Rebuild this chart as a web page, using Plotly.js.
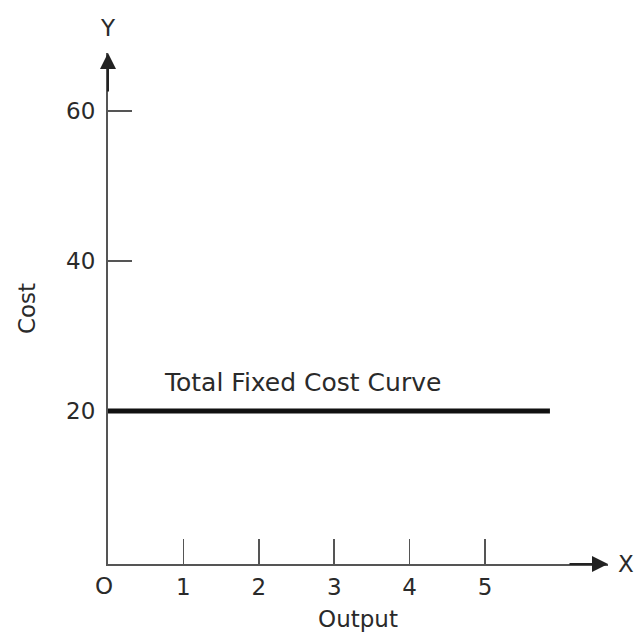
<!DOCTYPE html>
<html><head><meta charset="utf-8">
<script src="https://cdn.plot.ly/plotly-3.0.1.min.js"></script>
<style>html,body{margin:0;padding:0;background:#fff}#c{width:636px;height:632px}</style>
</head><body><div id="c"></div>
<script>
// Data
var outputTicks = [1, 2, 3, 4, 5];
var outputTickLabels = ['1', '2', '3', '4', '5'];
var costTicks = [20, 40, 60];
var costTickLabels = ['20', '40', '60'];
var tfcOutput = [0, 5.86];
var tfcCost = [20, 20];
var curveLabel = 'Total Fixed Cost Curve';

var FONT = '"DejaVu Sans", sans-serif';
var FS = 23;
var TXT = '#2a2a2a';
var AX = '#555';

var trace = {
  x: tfcOutput, y: tfcCost, type: 'scatter', mode: 'lines',
  line: {color: '#111', width: 5}, hoverinfo: 'skip', showlegend: false, cliponaxis: false
};

var layout = {
  width: 636, height: 632,
  margin: {l: 108, r: 28, t: 53, b: 68},
  paper_bgcolor: '#fff', plot_bgcolor: '#fff',
  showlegend: false,
  font: {family: FONT, color: TXT, size: FS},
  xaxis: {
    range: [0, 6.63], showgrid: false, zeroline: false, layer: 'below traces',
    showline: true, linecolor: AX, linewidth: 2,
    ticks: 'inside', ticklen: 25, tickwidth: 1.5, tickcolor: AX,
    tickmode: 'array', tickvals: outputTicks, ticktext: outputTickLabels,
    tickfont: {family: FONT, size: FS, color: TXT},
    ticklabelstandoff: 1,
    title: {text: 'Output', font: {family: FONT, size: FS, color: TXT}, standoff: 12}
  },
  yaxis: {
    range: [-0.4, 67.7], showgrid: false, zeroline: false, layer: 'below traces',
    showline: true, linecolor: AX, linewidth: 2,
    ticks: 'inside', ticklen: 24, tickwidth: 1.5, tickcolor: AX,
    tickmode: 'array', tickvals: costTicks, ticktext: costTickLabels,
    tickfont: {family: FONT, size: FS, color: TXT},
    ticklabelstandoff: 6,
    title: {text: 'Cost', font: {family: FONT, size: FS, color: TXT}, standoff: 24}
  },
  annotations: [
    {xref: 'paper', yref: 'paper', x: 0, y: 1.0, ax: 0, ay: 40,
     showarrow: true, arrowhead: 2, arrowsize: 1.6, arrowwidth: 2, arrowcolor: '#222', text: ''},
    {xref: 'paper', yref: 'paper', x: 1.0, y: 0, ax: -40, ay: 0,
     showarrow: true, arrowhead: 2, arrowsize: 1.6, arrowwidth: 2, arrowcolor: '#222', text: ''},
    {xref: 'paper', yref: 'paper', x: 0, y: 1, yshift: 25, xanchor: 'center', yanchor: 'middle',
     showarrow: false, text: 'Y', font: {family: FONT, size: FS, color: TXT}},
    {xref: 'paper', yref: 'paper', x: 1, y: 0, xshift: 18, xanchor: 'center', yanchor: 'middle',
     showarrow: false, text: 'X', font: {family: FONT, size: FS, color: TXT}},
    {xref: 'x', yref: 'paper', x: 0, y: 0, xshift: -4, yshift: -22, xanchor: 'center', yanchor: 'middle',
     showarrow: false, text: 'O', font: {family: FONT, size: FS, color: TXT}},
    {xref: 'x', yref: 'y', x: 0.72, y: 20, yshift: 28, xanchor: 'left', yanchor: 'middle',
     showarrow: false, text: curveLabel, font: {family: FONT, size: 25, color: TXT}}
  ]
};

Plotly.newPlot('c', [trace], layout, {displayModeBar: false, staticPlot: true});
</script>
</body></html>
